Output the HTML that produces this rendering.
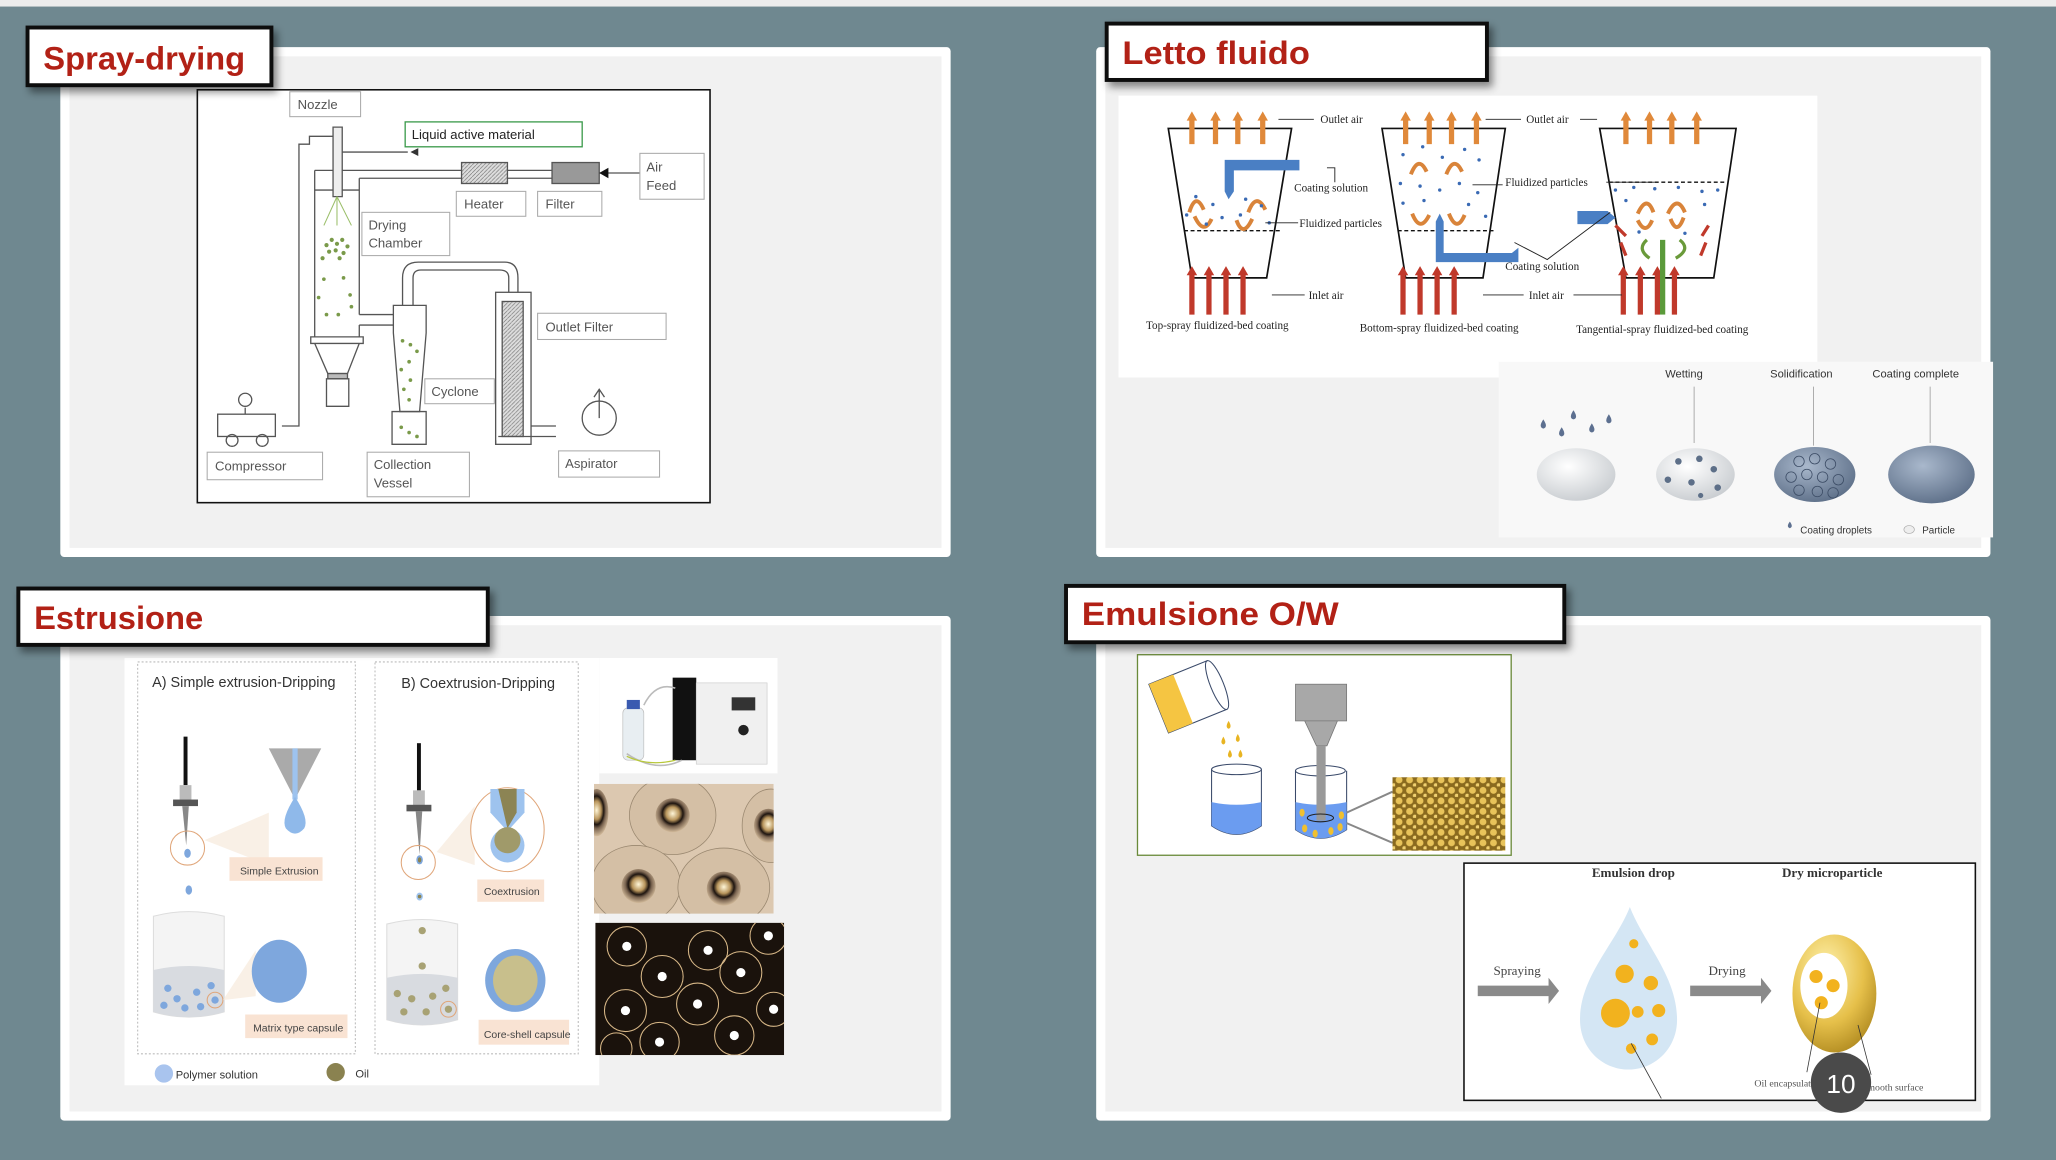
<!DOCTYPE html>
<html><head><meta charset="utf-8"><style>
html,body{margin:0;padding:0;background:#6f8890;width:2056px;height:1160px;overflow:hidden}
svg{display:block}
text{font-family:"Liberation Sans",sans-serif}
.lb{fill:#fff;stroke:#aaa;stroke-width:0.8}
.lt{font-size:10px;fill:#555}
.sr{font-family:"Liberation Serif",serif;font-size:8.5px;fill:#222}
.ttl{font-weight:bold;fill:#b22116;font-size:25px}
</style></head><body>
<svg width="2056" height="1160" viewBox="0 0 1568 885" preserveAspectRatio="none" xmlns="http://www.w3.org/2000/svg">
<defs>
<filter id="sh" x="-10%" y="-10%" width="130%" height="150%"><feDropShadow dx="3" dy="4" stdDeviation="3" flood-opacity="0.45"/></filter>
<radialGradient id="wsph" cx="40%" cy="35%" r="70%"><stop offset="0" stop-color="#fff"/><stop offset="1" stop-color="#c8ccd0"/></radialGradient>
<radialGradient id="bsph" cx="40%" cy="35%" r="70%"><stop offset="0" stop-color="#a9b8cc"/><stop offset="1" stop-color="#5d6f88"/></radialGradient>
<radialGradient id="gsph" cx="40%" cy="30%" r="75%"><stop offset="0" stop-color="#fff3b0"/><stop offset="0.6" stop-color="#e6c04a"/><stop offset="1" stop-color="#b08a20"/></radialGradient>
<radialGradient id="cell" cx="50%" cy="45%" r="55%"><stop offset="0" stop-color="#fff6d8"/><stop offset="0.35" stop-color="#b8955c"/><stop offset="0.55" stop-color="#1e1510"/><stop offset="0.7" stop-color="#7a6450"/><stop offset="1" stop-color="#d4bc9c"/></radialGradient>
<pattern id="mic" width="8" height="8" patternUnits="userSpaceOnUse"><rect width="8" height="8" fill="#8a6a1e"/><circle cx="3" cy="3" r="2.6" fill="#e8c35a"/><circle cx="7" cy="7" r="1.5" fill="#f0d070"/></pattern>
<pattern id="hatch" width="3" height="3" patternUnits="userSpaceOnUse"><rect width="3" height="3" fill="#ddd"/><path d="M0 3L3 0" stroke="#777" stroke-width="0.5"/></pattern>
<clipPath id="cp2"><rect x="453" y="598" width="137" height="99"/></clipPath>
<clipPath id="cp3"><rect x="454" y="704" width="144" height="101"/></clipPath>
</defs>

<rect x="0" y="0" width="1568" height="885" fill="#6f8890"/>
<rect x="0" y="0" width="1568" height="5" fill="#ececec"/>

<rect x="46" y="36" width="679" height="389" rx="3" fill="#fff"/><rect x="53" y="43" width="665" height="375" fill="#f1f1f1"/>
<rect x="836" y="36" width="682" height="389" rx="3" fill="#fff"/><rect x="843" y="43" width="668" height="375" fill="#f1f1f1"/>
<rect x="46" y="470" width="679" height="385" rx="3" fill="#fff"/><rect x="53" y="477" width="665" height="371" fill="#f1f1f1"/>
<rect x="836" y="470" width="682" height="385" rx="3" fill="#fff"/><rect x="843" y="477" width="668" height="371" fill="#f1f1f1"/>

<!-- SPRAY DRYING -->
<rect x="150.5" y="68.5" width="391" height="315" fill="#fff" stroke="#111" stroke-width="1.2"/>
<g fill="none" stroke="#555" stroke-width="1">
 <path d="M240 130H352M274 136H352M387 130H421M387 136H421M457 132H489"/>
 <rect x="352" y="124" width="35" height="16" fill="url(#hatch)"/>
 <rect x="421" y="124" width="36" height="16" fill="#999"/>
 <path d="M240 130V257M274 136V240M274 248V257M240 145H274"/>
 <path d="M254 97H261V150H254Z" fill="#eee"/>
 <path d="M254 104H236V110H228V325H215M261 116H311"/>
 <path d="M237 257H277V262H237ZM240 262L250 285H265L274 262"/>
 <rect x="250" y="285" width="15" height="4" fill="#bbb"/>
 <path d="M249 289H266V310H249Z"/>
 <path d="M274 240H300M274 248H300"/>
 <path d="M300 233H325V254L320 314H305L300 254Z"/>
 <path d="M299 314H325V339H299Z"/>
 <path d="M307 233V212Q307 200 319 200H385Q395 200 395 212V223M315 233V212Q315 206 321 206H381Q388 206 388 212V223"/>
 <rect x="378" y="223" width="27" height="116"/>
 <rect x="383" y="230" width="16" height="103" fill="url(#hatch)"/>
 <path d="M405 325H424M378 339V336M380 333H424"/>
 <circle cx="457" cy="319" r="13"/><path d="M457 319V298M453 303L457 297L461 303"/>
 <rect x="166" y="316" width="44" height="17"/><circle cx="177" cy="336" r="4.5"/><circle cx="200" cy="336" r="4.5"/>
 <path d="M187 316V311"/><circle cx="187" cy="305" r="5"/>
</g>
<path d="M313 116l6 -3v6z" fill="#333"/><path d="M457 132l7 -4v8z" fill="#111"/>
<path d="M257 150L247 172M257 150L257 172M257 150L268 172" stroke="#9bbf6a" stroke-width="0.8" fill="none"/>
<g fill="#7a9a4a">
 <circle cx="249" cy="187" r="1.6"/><circle cx="253" cy="183" r="1.6"/><circle cx="257" cy="186" r="1.6"/><circle cx="261" cy="183" r="1.6"/><circle cx="265" cy="188" r="1.6"/><circle cx="251" cy="192" r="1.6"/><circle cx="256" cy="191" r="1.6"/><circle cx="262" cy="193" r="1.6"/><circle cx="246" cy="197" r="1.6"/><circle cx="259" cy="197" r="1.6"/>
 <circle cx="247" cy="213" r="1.4"/><circle cx="262" cy="212" r="1.4"/><circle cx="243" cy="227" r="1.4"/><circle cx="267" cy="225" r="1.4"/><circle cx="249" cy="240" r="1.4"/><circle cx="258" cy="240" r="1.4"/><circle cx="268" cy="234" r="1.4"/>
 <circle cx="307" cy="260" r="1.4"/><circle cx="313" cy="263" r="1.4"/><circle cx="318" cy="268" r="1.4"/><circle cx="312" cy="276" r="1.4"/><circle cx="306" cy="282" r="1.4"/><circle cx="313" cy="290" r="1.4"/><circle cx="308" cy="297" r="1.4"/><circle cx="312" cy="305" r="1.4"/><circle cx="306" cy="326" r="1.4"/><circle cx="312" cy="330" r="1.4"/><circle cx="318" cy="333" r="1.4"/>
</g>
<rect class="lb" x="221" y="70" width="54" height="19"/><text class="lt" x="227" y="83">Nozzle</text>
<rect x="309" y="93" width="135" height="19" fill="#fff" stroke="#3a9a4a" stroke-width="1"/><text class="lt" x="314" y="106" style="fill:#222">Liquid active material</text>
<rect class="lb" x="488" y="117" width="49" height="35"/><text class="lt" x="493" y="131">Air</text><text class="lt" x="493" y="145">Feed</text>
<rect class="lb" x="348" y="146" width="53" height="19"/><text class="lt" x="354" y="159">Heater</text>
<rect class="lb" x="410" y="146" width="49" height="19"/><text class="lt" x="416" y="159">Filter</text>
<rect class="lb" x="276" y="162" width="67" height="33"/><text class="lt" x="281" y="175">Drying</text><text class="lt" x="281" y="189">Chamber</text>
<rect class="lb" x="410" y="239" width="98" height="20"/><text class="lt" x="416" y="253">Outlet Filter</text>
<rect class="lb" x="324" y="289" width="53" height="19"/><text class="lt" x="329" y="302">Cyclone</text>
<rect class="lb" x="158" y="345" width="88" height="21"/><text class="lt" x="164" y="359">Compressor</text>
<rect class="lb" x="280" y="345" width="78" height="34"/><text class="lt" x="285" y="358">Collection</text><text class="lt" x="285" y="372">Vessel</text>
<rect class="lb" x="426" y="344" width="77" height="20"/><text class="lt" x="431" y="357">Aspirator</text>

<!-- LETTO FLUIDO -->
<rect x="853" y="73" width="533" height="215" fill="#fff"/>
<rect x="1143" y="276" width="377" height="134" fill="#f8f8f8"/>
<g fill="none" stroke="#111" stroke-width="1.3">
 <path d="M891 98H985L966 212H909Z"/><path d="M1054 98H1148L1131 212H1072Z"/><path d="M1220 98H1324L1307 212H1240Z"/>
</g>
<g stroke="#111" stroke-width="1" stroke-dasharray="3 2"><path d="M903 176H976M1066 176H1139M1227 139H1317"/></g>
<g id="oa" fill="#e0893a">
 <path d="M907 110V92H905L909 85L913 92H911V110Z"/><path d="M925 110V92H923L927 85L931 92H929V110Z"/><path d="M942 110V92H940L944 85L948 92H946V110Z"/><path d="M961 110V92H959L963 85L967 92H965V110Z"/>
</g>
<use href="#oa" x="163"/><use href="#oa" x="331"/>
<g id="ia" fill="#c0392b">
 <path d="M907 240V210H905L909 203L913 210H911V240Z"/><path d="M920 240V210H918L922 203L926 210H924V240Z"/><path d="M933 240V210H931L935 203L939 210H937V240Z"/><path d="M946 240V210H944L948 203L952 210H950V240Z"/>
</g>
<use href="#ia" x="161"/><use href="#ia" x="329"/>
<rect x="1266" y="183" width="4" height="57" fill="#5a9a3a"/>
<path d="M934 122H991V130H941V146L937 152L934 146Z" fill="#4a7fc4"/>
<path d="M1095 193H1153L1158 189V200H1095V169L1098 163L1101 169V193Z" fill="#4a7fc4"/>
<path d="M1203 161H1226L1232 166L1226 171H1203Z" fill="#4a7fc4"/>
<g fill="none" stroke="#d9843a" stroke-width="3">
 <path d="M907 162Q912 146 918 160M952 162Q958 146 965 160M911 165Q918 180 924 167M943 168Q948 182 955 167"/>
 <path d="M1076 133Q1082 118 1088 131M1103 133Q1109 118 1115 131M1077 163Q1083 178 1090 164M1105 163Q1111 178 1117 164"/>
 <path d="M1249 163Q1256 148 1261 162M1272 163Q1279 148 1285 162M1249 168Q1255 180 1260 168M1274 167Q1279 180 1284 166"/>
</g>
<g fill="none" stroke="#6a9a3a" stroke-width="2.5"><path d="M1256 183Q1248 190 1258 197M1281 183Q1290 190 1278 197"/></g>
<g stroke="#c0392b" stroke-width="2.5"><path d="M1232 172L1240 180M1236 185L1240 195M1303 172L1298 180M1301 185L1297 195"/></g>
<g fill="#3a6ab4">
 <circle cx="912" cy="150" r="1.3"/><circle cx="925" cy="156" r="1.3"/><circle cx="950" cy="152" r="1.3"/><circle cx="962" cy="157" r="1.3"/><circle cx="905" cy="164" r="1.3"/><circle cx="932" cy="166" r="1.3"/><circle cx="946" cy="164" r="1.3"/><circle cx="968" cy="170" r="1.3"/><circle cx="920" cy="171" r="1.3"/>
 <circle cx="1070" cy="118" r="1.3"/><circle cx="1085" cy="112" r="1.3"/><circle cx="1100" cy="120" r="1.3"/><circle cx="1117" cy="114" r="1.3"/><circle cx="1128" cy="122" r="1.3"/><circle cx="1068" cy="140" r="1.3"/><circle cx="1083" cy="142" r="1.3"/><circle cx="1098" cy="145" r="1.3"/><circle cx="1113" cy="140" r="1.3"/><circle cx="1127" cy="147" r="1.3"/><circle cx="1070" cy="155" r="1.3"/><circle cx="1086" cy="153" r="1.3"/><circle cx="1120" cy="156" r="1.3"/><circle cx="1133" cy="165" r="1.3"/>
 <circle cx="1232" cy="145" r="1.3"/><circle cx="1246" cy="143" r="1.3"/><circle cx="1262" cy="144" r="1.3"/><circle cx="1280" cy="143" r="1.3"/><circle cx="1298" cy="146" r="1.3"/><circle cx="1310" cy="145" r="1.3"/><circle cx="1240" cy="153" r="1.3"/><circle cx="1300" cy="156" r="1.3"/><circle cx="1250" cy="177" r="1.3"/><circle cx="1285" cy="178" r="1.3"/>
</g>
<g stroke="#222" stroke-width="0.7" fill="none">
 <path d="M975 91H1002M1012 128H1018V139M965 170H990M970 225H995"/>
 <path d="M1133 91H1160M1205 91H1218M1123 141H1146M1131 225H1162M1200 225H1237M1262 139H1225"/>
 <path d="M1155 185L1180 198L1228 162"/>
</g>
<text class="sr" x="1007" y="94">Outlet air</text>
<text class="sr" x="987" y="146">Coating solution</text>
<text class="sr" x="991" y="173">Fluidized particles</text>
<text class="sr" x="998" y="228">Inlet air</text>
<text class="sr" x="874" y="251">Top-spray fluidized-bed coating</text>
<text class="sr" x="1164" y="94">Outlet air</text>
<text class="sr" x="1148" y="142">Fluidized particles</text>
<text class="sr" x="1148" y="206">Coating solution</text>
<text class="sr" x="1166" y="228">Inlet air</text>
<text class="sr" x="1037" y="253">Bottom-spray fluidized-bed coating</text>
<text class="sr" x="1202" y="254">Tangential-spray fluidized-bed coating</text>
<g font-size="8.5" fill="#333"><text x="1270" y="288">Wetting</text><text x="1350" y="288">Solidification</text><text x="1428" y="288">Coating complete</text></g>
<path d="M1292 295V338M1383 295V340M1472 295V338" stroke="#999" stroke-width="0.6"/>
<g fill="#5d7090"><path d="M1177 320q-4 6 0 7q4 -1 0 -7z"/><path d="M1191 326q-4 6 0 7q4 -1 0 -7z"/><path d="M1200 313q-4 6 0 7q4 -1 0 -7z"/><path d="M1214 323q-4 6 0 7q4 -1 0 -7z"/><path d="M1227 316q-4 6 0 7q4 -1 0 -7z"/><path d="M1365 398q-3 4 0 5q3 -1 0 -5z"/></g>
<ellipse cx="1202" cy="362" rx="30" ry="20" fill="url(#wsph)"/>
<ellipse cx="1293" cy="362" rx="30" ry="20" fill="url(#wsph)"/>
<g fill="#5d6f88"><circle cx="1280" cy="352" r="2.5"/><circle cx="1296" cy="350" r="2.5"/><circle cx="1307" cy="358" r="2.5"/><circle cx="1272" cy="366" r="2.5"/><circle cx="1290" cy="368" r="2.5"/><circle cx="1310" cy="372" r="2.5"/><circle cx="1297" cy="378" r="2"/></g>
<ellipse cx="1384" cy="362" rx="31" ry="21" fill="url(#bsph)"/>
<g fill="none" stroke="#3d4d66" stroke-width="0.6"><circle cx="1372" cy="352" r="4"/><circle cx="1384" cy="350" r="4"/><circle cx="1396" cy="354" r="4"/><circle cx="1366" cy="364" r="4"/><circle cx="1378" cy="362" r="4"/><circle cx="1390" cy="364" r="4"/><circle cx="1402" cy="366" r="4"/><circle cx="1372" cy="374" r="4"/><circle cx="1386" cy="375" r="4"/><circle cx="1398" cy="376" r="4"/></g>
<ellipse cx="1473" cy="362" rx="33" ry="22" fill="url(#bsph)"/>
<ellipse cx="1456" cy="404" rx="4" ry="3" fill="#eee" stroke="#aaa" stroke-width="0.5"/>
<g font-size="7.5" fill="#333"><text x="1373" y="407">Coating droplets</text><text x="1466" y="407">Particle</text></g>

<!-- ESTRUSIONE -->
<rect x="95" y="502" width="362" height="326" fill="#fff"/>
<g fill="none" stroke="#bbb" stroke-width="0.8" stroke-dasharray="1.5 1.5"><rect x="105" y="505" width="166" height="299"/><rect x="286" y="505" width="155" height="299"/></g>
<g font-size="11" fill="#333"><text x="116" y="524">A) Simple extrusion-Dripping</text><text x="306" y="525">B) Coextrusion-Dripping</text></g>
<rect x="140" y="562" width="3" height="37" fill="#111"/>
<rect x="137" y="599" width="9" height="12" fill="#bbb"/><rect x="132" y="610" width="19" height="5" fill="#555"/>
<path d="M139 615H144L142 645Z" fill="#888"/>
<circle cx="143" cy="647" r="13" fill="none" stroke="#e0a67a" stroke-width="0.8"/>
<ellipse cx="143" cy="651" rx="2.5" ry="3.5" fill="#7ea7dd"/>
<path d="M156 641L205 620L205 660Z" fill="#f7e9dc" opacity="0.7"/>
<path d="M205 571H245L227 606H223Z" fill="#aaa"/><path d="M223 571H227V610H223Z" fill="#9ec3ee"/>
<path d="M225 608Q214 625 218 632Q225 640 232 632Q236 625 225 608Z" fill="#8fb9ea"/>
<rect x="175" y="654" width="71" height="18" fill="#f9e3d3"/><text x="183" y="667" font-size="8" fill="#444">Simple Extrusion</text>
<ellipse cx="144" cy="679" rx="2.5" ry="3.5" fill="#7ea7dd"/>
<ellipse cx="144" cy="703" rx="2.5" ry="3" fill="#7ea7dd"/><ellipse cx="144" cy="726" rx="2.5" ry="3" fill="#7ea7dd"/>
<path d="M117 699Q144 692 171 699V772Q144 780 117 772Z" fill="#f4f4f4" stroke="#ddd" stroke-width="0.8"/>
<path d="M117 740Q144 734 171 740V772Q144 780 117 772Z" fill="#d8dbe0"/>
<g fill="#7ea7dd"><circle cx="128" cy="754" r="2.8"/><circle cx="135" cy="762" r="2.8"/><circle cx="150" cy="757" r="2.8"/><circle cx="161" cy="752" r="2.8"/><circle cx="125" cy="767" r="2.8"/><circle cx="141" cy="769" r="2.8"/><circle cx="153" cy="768" r="2.8"/><circle cx="164" cy="763" r="2.8"/></g>
<circle cx="164" cy="763" r="6" fill="none" stroke="#e0a67a" stroke-width="0.8"/>
<path d="M170 763L195 725L195 760Z" fill="#f7e9dc" opacity="0.7"/>
<ellipse cx="213" cy="741" rx="21" ry="24" fill="#7ea7dd"/>
<rect x="187" y="774" width="78" height="18" fill="#f9e3d3"/><text x="193" y="787" font-size="8" fill="#444">Matrix type capsule</text>
<rect x="318" y="567" width="3" height="36" fill="#111"/>
<rect x="315" y="603" width="9" height="12" fill="#bbb"/><rect x="310" y="614" width="19" height="5" fill="#555"/>
<path d="M317 619H322L320 652Z" fill="#888"/>
<circle cx="319" cy="658" r="13" fill="none" stroke="#e0a67a" stroke-width="0.8"/>
<ellipse cx="320" cy="656" rx="2.5" ry="3.5" fill="#7ea7dd"/><ellipse cx="320" cy="656" rx="1.3" ry="2" fill="#8a8250"/>
<path d="M333 650L362 615L362 660Z" fill="#f7e9dc" opacity="0.7"/>
<ellipse cx="387" cy="633" rx="28" ry="32" fill="#fff" stroke="#e0a67a" stroke-width="0.8"/>
<path d="M374 602H400V620L389 632H385L374 620Z" fill="#9ec3ee"/><path d="M380 602H394V620L387 632Z" fill="#8c8454"/>
<ellipse cx="387" cy="645" rx="13" ry="13" fill="#9ec3ee"/><ellipse cx="387" cy="641" rx="10" ry="10" fill="#a09a6a"/>
<rect x="364" y="671" width="51" height="17" fill="#f9e3d3"/><text x="369" y="683" font-size="8" fill="#444">Coextrusion</text>
<ellipse cx="320" cy="684" rx="2.5" ry="3" fill="#9ec3ee"/><circle cx="320" cy="684" r="1.4" fill="#8a8250"/>
<path d="M295 705Q322 698 349 705V778Q322 786 295 778Z" fill="#f4f4f4" stroke="#ddd" stroke-width="0.8"/>
<path d="M295 746Q322 740 349 746V778Q322 786 295 778Z" fill="#d8dbe0"/>
<g fill="#a8a274"><circle cx="322" cy="710" r="2.8"/><circle cx="322" cy="737" r="2.8"/><circle cx="303" cy="758" r="2.8"/><circle cx="314" cy="762" r="2.8"/><circle cx="330" cy="760" r="2.8"/><circle cx="340" cy="754" r="2.8"/><circle cx="308" cy="772" r="2.8"/><circle cx="325" cy="772" r="2.8"/><circle cx="342" cy="770" r="2.8"/></g>
<circle cx="342" cy="770" r="6" fill="none" stroke="#e0a67a" stroke-width="0.8"/>
<ellipse cx="393" cy="748" rx="23" ry="24" fill="#7ea7dd"/><ellipse cx="393" cy="748" rx="17" ry="19" fill="#c8bf8c"/>
<rect x="365" y="778" width="69" height="19" fill="#f9e3d3"/><text x="369" y="792" font-size="8" fill="#444">Core-shell capsule</text>
<circle cx="125" cy="819" r="7" fill="#a9c4ee"/><text x="134" y="823" font-size="8.5" fill="#333">Polymer solution</text>
<circle cx="256" cy="818" r="7" fill="#8a8250"/><text x="271" y="822" font-size="8.5" fill="#333">Oil</text>
<rect x="457" y="502" width="136" height="88" fill="#fff"/>
<rect x="513" y="517" width="18" height="63" fill="#111"/><rect x="531" y="521" width="54" height="62" fill="#f0f0f0" stroke="#ccc" stroke-width="0.5"/>
<rect x="558" y="532" width="18" height="10" fill="#333"/><circle cx="567" cy="557" r="4" fill="#222"/>
<rect x="475" y="540" width="16" height="40" rx="4" fill="#e8eef2" stroke="#bbb" stroke-width="0.5"/><rect x="478" y="534" width="10" height="7" fill="#3a5ab0"/>
<path d="M491 538Q500 520 515 525M478 575Q500 590 520 580" fill="none" stroke="#bbb" stroke-width="1.2"/>
<path d="M478 577Q495 585 515 580" fill="none" stroke="#b8c83a" stroke-width="1"/>
<g clip-path="url(#cp2)">
<rect x="453" y="598" width="137" height="99" fill="#dcc8b0"/>
<ellipse cx="513" cy="622" rx="33" ry="30" fill="#d4bfa5" stroke="#9a8870" stroke-width="0.6"/><ellipse cx="513" cy="622" rx="13" ry="13" fill="url(#cell)"/>
<ellipse cx="485" cy="675" rx="34" ry="30" fill="#d4bfa5" stroke="#9a8870" stroke-width="0.6"/><ellipse cx="487" cy="676" rx="13" ry="13" fill="url(#cell)"/>
<ellipse cx="552" cy="677" rx="35" ry="30" fill="#d4bfa5" stroke="#9a8870" stroke-width="0.6"/><ellipse cx="552" cy="678" rx="13" ry="13" fill="url(#cell)"/>
<ellipse cx="588" cy="630" rx="22" ry="28" fill="#d4bfa5" stroke="#9a8870" stroke-width="0.6"/><ellipse cx="586" cy="630" rx="11" ry="13" fill="url(#cell)"/>
<ellipse cx="455" cy="620" rx="9" ry="18" fill="url(#cell)"/>
</g>
<g clip-path="url(#cp3)">
<rect x="454" y="704" width="144" height="101" fill="#1a120c"/>
<g fill="none" stroke="#d8b888" stroke-width="0.8">
<circle cx="478" cy="722" r="15"/><circle cx="505" cy="745" r="16"/><circle cx="477" cy="771" r="16"/><circle cx="540" cy="725" r="15"/><circle cx="565" cy="742" r="16"/><circle cx="532" cy="766" r="16"/><circle cx="503" cy="795" r="15"/><circle cx="560" cy="790" r="15"/><circle cx="586" cy="714" r="14"/><circle cx="590" cy="770" r="13"/><circle cx="470" cy="800" r="12"/>
</g>
<g fill="#fff"><circle cx="478" cy="722" r="3.5"/><circle cx="505" cy="745" r="3.5"/><circle cx="477" cy="771" r="3.5"/><circle cx="540" cy="725" r="3.5"/><circle cx="565" cy="742" r="3.5"/><circle cx="532" cy="766" r="3.5"/><circle cx="503" cy="795" r="3.5"/><circle cx="560" cy="790" r="3.5"/><circle cx="586" cy="714" r="3.5"/><circle cx="590" cy="770" r="3.5"/></g>
</g>

<!-- EMULSIONE -->
<rect x="867.5" y="499.5" width="285" height="153" fill="#fff" stroke="#6a8a3a" stroke-width="1"/>
<g transform="rotate(-22 905 532)">
 <rect x="882" y="512" width="48" height="40" fill="#fff" stroke="#3a4a6a" stroke-width="0.8"/>
 <rect x="882" y="512" width="20" height="40" fill="#f5c542"/>
 <ellipse cx="930" cy="532" rx="5" ry="20" fill="#fff" stroke="#3a4a6a" stroke-width="0.8"/>
</g>
<g fill="#e8b422"><path d="M937 550q-3 5 0 6q3 -1 0 -6z"/><path d="M933 562q-3 5 0 6q3 -1 0 -6z"/><path d="M944 560q-3 5 0 6q3 -1 0 -6z"/><path d="M938 572q-3 5 0 6q3 -1 0 -6z"/><path d="M946 572q-3 5 0 6q3 -1 0 -6z"/></g>
<path d="M924 587V630Q943 643 962 630V587" fill="#fff" stroke="#3a4a6a" stroke-width="0.8"/>
<path d="M924 612Q943 616 962 612V630Q943 643 924 630Z" fill="#6b9cf0"/>
<ellipse cx="943" cy="587" rx="19" ry="4" fill="#fff" stroke="#3a4a6a" stroke-width="0.8"/>
<path d="M988 588V633Q1007 646 1027 633V588" fill="#fff" stroke="#3a4a6a" stroke-width="0.8"/>
<path d="M988 612Q1007 616 1027 612V633Q1007 646 988 633Z" fill="#6b9cf0"/>
<ellipse cx="1007" cy="588" rx="19" ry="4" fill="none" stroke="#3a4a6a" stroke-width="0.8"/>
<rect x="988" y="522" width="39" height="28" fill="#a8a8a8" stroke="#777" stroke-width="0.6"/>
<path d="M995 550H1020L1012 569H1004Z" fill="#a8a8a8" stroke="#777" stroke-width="0.6"/>
<rect x="1004" y="569" width="7" height="57" fill="#999"/>
<ellipse cx="1007" cy="624" rx="10" ry="3" fill="none" stroke="#222" stroke-width="0.8"/>
<g fill="#f0c030"><ellipse cx="993" cy="620" rx="2" ry="3"/><ellipse cx="1023" cy="622" rx="2" ry="3"/><ellipse cx="995" cy="632" rx="2" ry="3"/><ellipse cx="1003" cy="636" rx="2" ry="3"/><ellipse cx="1015" cy="634" rx="2" ry="3"/><ellipse cx="1022" cy="631" rx="2" ry="3"/></g>
<path d="M1027 620L1062 604M1027 628L1062 643" stroke="#888" stroke-width="1.5"/>
<rect x="1062" y="593" width="86" height="56" fill="url(#mic)"/>

<rect x="1116.5" y="658.5" width="390" height="181" fill="#fff" stroke="#111" stroke-width="1.2"/>
<g font-weight="bold" font-size="10" fill="#333"><text x="1214" y="669" style="font-family:'Liberation Serif',serif">Emulsion drop</text><text x="1359" y="669" style="font-family:'Liberation Serif',serif">Dry microparticle</text></g>
<path d="M1127 752H1181V746L1189 756L1181 766V760H1127Z" fill="#8a8a8a"/>
<path d="M1289 752H1343V746L1351 756L1343 766V760H1289Z" fill="#8a8a8a"/>
<text x="1139" y="744" font-size="10" fill="#444" style="font-family:'Liberation Serif',serif">Spraying</text>
<text x="1303" y="744" font-size="10" fill="#444" style="font-family:'Liberation Serif',serif">Drying</text>
<path d="M1243 692C1232 720 1205 745 1205 778C1205 800 1222 816 1242 816C1262 816 1279 800 1279 778C1279 745 1254 720 1243 692Z" fill="#d4e6f4"/>
<g fill="#f2b21e"><circle cx="1232" cy="773" r="11"/><circle cx="1239" cy="743" r="7"/><circle cx="1259" cy="750" r="5.5"/><circle cx="1249" cy="772" r="4.5"/><circle cx="1265" cy="771" r="5"/><circle cx="1260" cy="793" r="4.5"/><circle cx="1244" cy="800" r="4"/><circle cx="1246" cy="720" r="3.5"/></g>
<path d="M1244 796L1267 838" stroke="#333" stroke-width="0.6"/>
<ellipse cx="1399" cy="758" rx="32" ry="45" fill="url(#gsph)"/>
<ellipse cx="1391" cy="752" rx="18" ry="25" fill="#fff"/>
<g fill="#f2b21e"><circle cx="1385" cy="745" r="5"/><circle cx="1398" cy="752" r="5"/><circle cx="1389" cy="765" r="5"/></g>
<path d="M1388 765L1378 818M1417 782L1427 820" stroke="#333" stroke-width="0.6"/>
<g font-size="7.5" fill="#555"><text x="1338" y="829" style="font-family:'Liberation Serif',serif">Oil encapsulation</text><text x="1420" y="832" style="font-family:'Liberation Serif',serif">Smooth surface</text></g>
<circle cx="1404" cy="826" r="23" fill="#4a4a4a"/>
<text x="1404" y="834" font-size="20" fill="#fff" text-anchor="middle">10</text>

<!-- TITLES -->
<g filter="url(#sh)">
<rect x="21" y="21" width="186" height="44" fill="#fff" stroke="#111" stroke-width="3"/>
<rect x="844" y="18" width="290" height="43" fill="#fff" stroke="#111" stroke-width="3"/>
<rect x="14" y="449" width="358" height="43" fill="#fff" stroke="#111" stroke-width="3"/>
<rect x="813" y="447" width="380" height="43" fill="#fff" stroke="#111" stroke-width="3"/>
</g>
<text class="ttl" x="33" y="53" textLength="154" lengthAdjust="spacingAndGlyphs">Spray-drying</text>
<text class="ttl" x="856" y="49" textLength="143" lengthAdjust="spacingAndGlyphs">Letto fluido</text>
<text class="ttl" x="26" y="480" textLength="129" lengthAdjust="spacingAndGlyphs">Estrusione</text>
<text class="ttl" x="825" y="477" textLength="196" lengthAdjust="spacingAndGlyphs">Emulsione O/W</text>
</svg>
</body></html>
